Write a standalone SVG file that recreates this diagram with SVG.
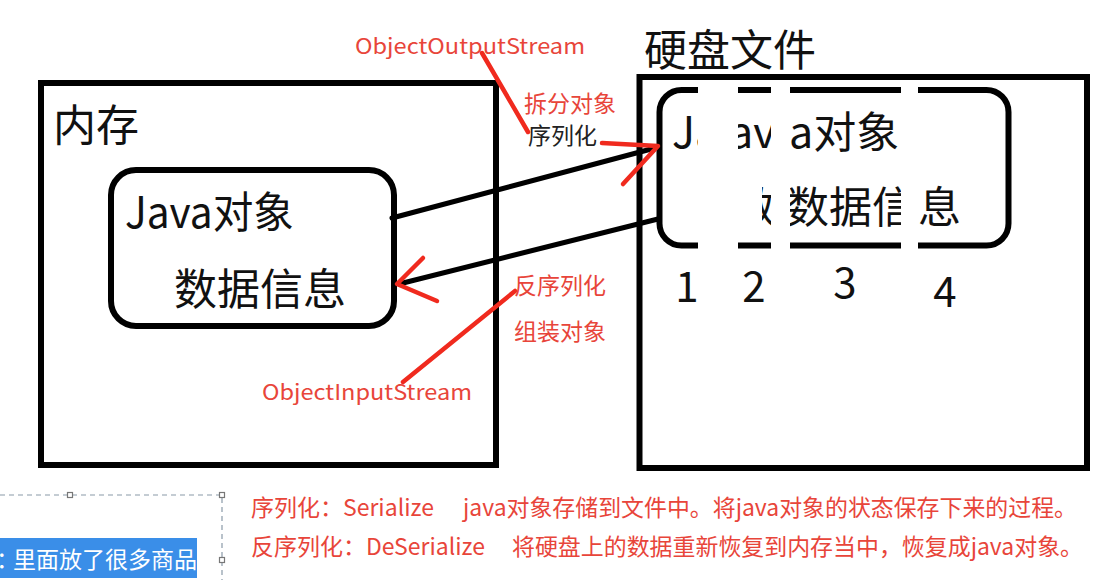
<svg xmlns="http://www.w3.org/2000/svg" width="1114" height="580" viewBox="0 0 1114 580">
<defs>
<style>
.box{fill:none;stroke:#000;stroke-width:6}
.big{font-family:"Noto Sans CJK SC","Noto Sans",sans-serif;font-size:43px;fill:#111}
.num{font-family:"Noto Sans CJK SC","Noto Sans",sans-serif;font-size:42px;fill:#111;text-anchor:middle}
.red{font-family:"Noto Sans CJK SC","Noto Sans",sans-serif;fill:#e8453a}
.lbl{font-family:"Noto Sans CJK SC","Noto Sans",sans-serif;font-size:23px}
.blk{stroke:#000;stroke-width:5;fill:none;stroke-linecap:round}
.rl{stroke:#f02a1e;stroke-width:4.5;fill:none;stroke-linecap:round;stroke-linejoin:round}
.gap{fill:#fff}
</style>
<clipPath id="c2"><rect x="762" y="180" width="9" height="60"/></clipPath>
</defs>
<rect width="1114" height="580" fill="#fff"/>

<g id="memory">
<rect class="box" x="41" y="83" width="455" height="382"/>
<text class="big" x="53" y="141">内存</text>
</g>

<g id="java-object-memory">
<rect class="box" x="111" y="170" width="283" height="156" rx="25"/>
<text class="big" x="125" y="228" textLength="169" lengthAdjust="spacingAndGlyphs">Java对象</text>
<text class="big" x="174" y="305">数据信息</text>
</g>

<g id="disk">
<rect class="box" x="639.5" y="77" width="447.5" height="391"/>
<text class="big" x="644" y="66">硬盘文件</text>
</g>

<g id="java-object-disk">
<rect class="box" x="659.5" y="90" width="349" height="155.5" rx="22"/>
<text class="big" x="672" y="148">Ja</text>
<text class="big" x="729" y="148">av</text>
<text class="big" x="789" y="148">a对象</text>
<text class="big" x="733" y="223" clip-path="url(#c2)">数</text>
<text class="big" x="786" y="223">数据信</text>
<text class="big" x="918" y="223">息</text>
<rect class="gap" x="698" y="84" width="40" height="168"/>
<rect class="gap" x="771" y="84" width="19" height="168"/>
<rect class="gap" x="901" y="84" width="17" height="168"/>
<text class="num" x="687" y="302">1</text>
<text class="num" x="754" y="302">2</text>
<text class="num" x="845" y="298">3</text>
<text class="num" x="945" y="307">4</text>
</g>

<g id="connectors">
<line class="blk" x1="392" y1="218" x2="655" y2="148"/>
<line class="blk" x1="658" y1="219" x2="399" y2="284"/>
<polyline class="rl" points="602,143 658,146 623,184"/>
<polyline class="rl" points="423,258 397,284 437,301"/>
<line class="rl" x1="482" y1="53" x2="528" y2="132"/>
<line class="rl" x1="515" y1="291" x2="403" y2="382"/>
</g>

<g id="labels">
<text class="red" x="355" y="54" font-size="21" textLength="230" lengthAdjust="spacingAndGlyphs">ObjectOutputStream</text>
<text class="red lbl" x="524" y="112" font-size="22">拆分对象</text>
<text class="lbl" x="528" y="144" fill="#222">序列化</text>
<text class="red lbl" x="514" y="294">反序列化</text>
<text class="red lbl" x="514" y="340">组装对象</text>
<text class="red" x="262" y="400" font-size="21" textLength="210" lengthAdjust="spacingAndGlyphs">ObjectInputStream</text>
</g>

<g id="notes">
<text class="red lbl" x="251" y="516">序列化：Serialize</text>
<text class="red lbl" x="463" y="516" textLength="614" lengthAdjust="spacingAndGlyphs">java对象存储到文件中。将java对象的状态保存下来的过程。</text>
<text class="red lbl" x="251" y="555">反序列化：DeSerialize</text>
<text class="red lbl" x="512" y="555" textLength="571" lengthAdjust="spacingAndGlyphs">将硬盘上的数据重新恢复到内存当中，恢复成java对象。</text>
</g>

<g id="selection">
<path d="M0,495 H222 V580" fill="none" stroke="#8a9aa8" stroke-width="1.2" stroke-dasharray="5,4"/>
<rect x="67.5" y="492.5" width="5" height="5" fill="#fff" stroke="#777" stroke-width="1.2"/>
<rect x="219.5" y="492.5" width="5" height="5" fill="#fff" stroke="#777" stroke-width="1.2"/>
<rect x="219.5" y="557.5" width="5" height="5" fill="#fff" stroke="#777" stroke-width="1.2"/>
<rect x="0" y="538" width="197" height="40" fill="#3a8ee8"/>
<text class="lbl" x="-4" y="568" fill="#fff">：<tspan x="13">里面放了很多商品</tspan></text>
</g>
</svg>
